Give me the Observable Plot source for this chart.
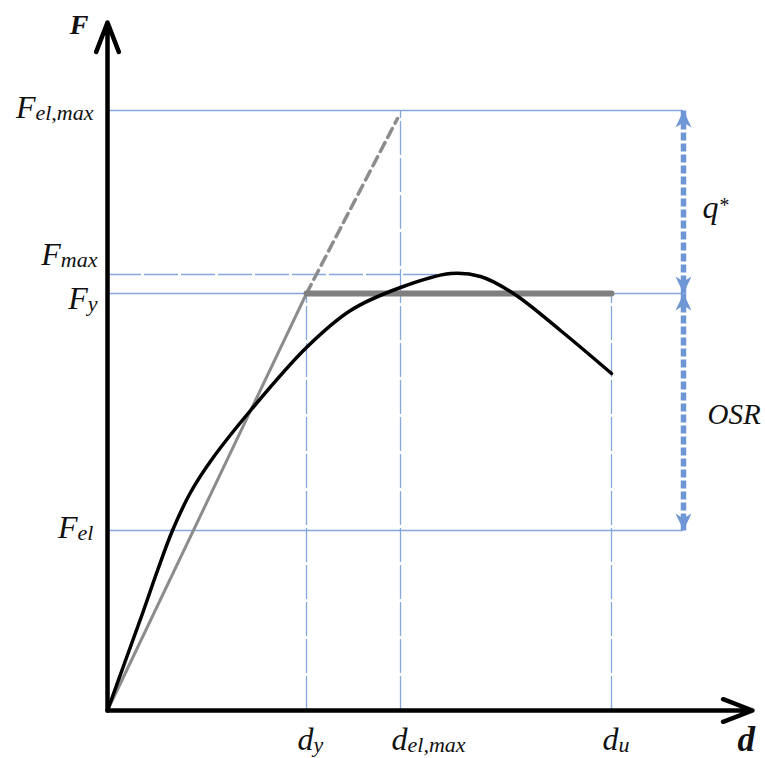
<!DOCTYPE html>
<html>
<head>
<meta charset="utf-8">
<script src="https://cdn.jsdelivr.net/npm/d3@7"></script>
<script src="https://cdn.jsdelivr.net/npm/@observablehq/plot@0.6"></script>
<style>
  html, body { margin: 0; padding: 0; background: white; }
</style>
</head>
<body>
<div id="chart"></div>
<script>
// ---- data (abstract units) ----
const dNames  = ["d_y", "d_el,max", "d_u"];
const dValues = [1.99, 2.93, 5.04];
const fNames  = ["F_el,max", "F_max", "F_y", "F_el"];
const fValues = [6.00, 4.36, 4.17, 1.80];

// capacity (pushover) curve
const curveD = [0, 0.18, 0.35, 0.50, 0.65, 0.83, 1.05, 1.43, 1.99, 2.43, 2.93, 3.43, 3.73, 4.06, 4.53, 5.04];
const curveF = [0, 0.50, 0.97, 1.40, 1.80, 2.18, 2.52, 3.00, 3.63, 4.00, 4.23, 4.37, 4.34, 4.17, 3.80, 3.37];

// bilinear idealisation
const elasticD = [0, 1.99, 2.90];
const elasticF = [0, 4.17, 5.92];
const plateauD = [1.99, 5.04];

// axis extents and annotation column
const axisEnd = [6.45, 6.88];
const arrowD = 5.76;
const peakD = 3.43;
const ratioNames = ["q^*", "OSR"];

const [Felmax, Fmax, Fy, Fel] = fValues;
const [dy, delmax, du] = dValues;

const blue = "#84a7dd";
const arrowBlue = "#6f97d6";
const serif = "Liberation Serif, Times New Roman, serif";

const headUp = {draw(ctx) { ctx.moveTo(0, 0); ctx.lineTo(-8, 17); ctx.lineTo(0, 12); ctx.lineTo(8, 17); ctx.closePath(); }};
const headDown = {draw(ctx) { ctx.moveTo(0, 0); ctx.lineTo(-8, -17); ctx.lineTo(0, -12); ctx.lineTo(8, -17); ctx.closePath(); }};

const curve = curveD.map((d, i) => ({d, F: curveF[i]}));
const elastic = elasticD.map((d, i) => ({d, F: elasticF[i]}));

const hLines = [
  {F: Felmax, x2: arrowD, dash: false},
  {F: Fy, x2: arrowD, dash: false},
  {F: Fel, x2: arrowD, dash: false},
  {F: Fmax, x2: peakD, dash: true}
];
const vLines = [
  {d: dy, y2: Fy},
  {d: delmax, y2: Felmax},
  {d: du, y2: Fy}
];

const plot = Plot.plot({
  width: 765,
  height: 758,
  marginLeft: 107,
  marginRight: 0,
  marginTop: 0,
  marginBottom: 48,
  x: {domain: [0, 6.58], axis: null},
  y: {domain: [0, 7.10], axis: null},
  style: {background: "white", overflow: "visible"},
  marks: [
    // thin blue reference lines
    Plot.ruleY(hLines.filter(l => !l.dash), {y: "F", x1: 0, x2: "x2", stroke: blue, strokeWidth: 1.3}),
    Plot.ruleY(hLines.filter(l => l.dash), {y: "F", x1: 0, x2: "x2", stroke: blue, strokeWidth: 1.3, strokeDasharray: "34,3"}),
    Plot.ruleX(vLines, {x: "d", y1: 0, y2: "y2", stroke: blue, strokeWidth: 1.3, strokeDasharray: "34,3"}),
    // bilinear idealisation
    Plot.line(elastic.slice(0, 2), {x: "d", y: "F", stroke: "#8c8c8c", strokeWidth: 3}),
    Plot.line(elastic.slice(1), {x: "d", y: "F", stroke: "#8c8c8c", strokeWidth: 3.5, strokeDasharray: "10,6"}),
    Plot.line(plateauD.map(d => ({d, F: Fy})), {x: "d", y: "F", stroke: "#7f7f7f", strokeWidth: 6}),
    // capacity curve
    Plot.line(curve, {x: "d", y: "F", stroke: "black", strokeWidth: 3.5, curve: "catmull-rom"}),
    // axes with arrows
    Plot.arrow([{x1: 0, y1: 0, x2: axisEnd[0], y2: 0}, {x1: 0, y1: 0, x2: 0, y2: axisEnd[1]}],
      {x1: "x1", y1: "y1", x2: "x2", y2: "y2", stroke: "black", strokeWidth: 4.5, headAngle: 42, headLength: 10.5}),
    // dimension arrows q* and OSR
    Plot.link([{y1: Felmax, y2: Fy}, {y1: Fy, y2: Fel}],
      {x1: arrowD, x2: arrowD, y1: "y1", y2: "y2", stroke: arrowBlue, strokeWidth: 5.5, strokeDasharray: "8,3"}),
    Plot.dot([Felmax, Fy], {x: arrowD, y: d => d, symbol: headUp, fill: arrowBlue, stroke: "none"}),
    Plot.dot([Fy, Fel], {x: arrowD, y: d => d, symbol: headDown, fill: arrowBlue, stroke: "none"}),
    // y labels
    Plot.text(fNames, {filter: (d, i) => i === 0 || i === 3, x: 0, y: (d, i) => fValues[i], text: d => d,
      textAnchor: "end", lineAnchor: "bottom", dx: -14, dy: 7, fontFamily: serif, fontStyle: "italic", fontSize: 32, fill: "#111"}),
    Plot.text(fNames, {filter: (d, i) => i === 1, x: 0, y: (d, i) => fValues[i], text: d => d,
      textAnchor: "end", lineAnchor: "bottom", dx: -10, dy: -10, fontFamily: serif, fontStyle: "italic", fontSize: 32, fill: "#111"}),
    Plot.text(fNames, {filter: (d, i) => i === 2, x: 0, y: (d, i) => fValues[i], text: d => d,
      textAnchor: "end", lineAnchor: "bottom", dx: -10, dy: 15, fontFamily: serif, fontStyle: "italic", fontSize: 32, fill: "#111"}),
    // x labels
    Plot.text(dNames, {x: (d, i) => dValues[i], y: 0, text: d => d, textAnchor: "start", lineAnchor: "bottom",
      dx: -9, dy: 39, fontFamily: serif, fontStyle: "italic", fontSize: 32, fill: "#111"}),
    // axis names
    Plot.text(["F"], {x: 0, y: axisEnd[1], text: d => d, textAnchor: "end", lineAnchor: "bottom", dx: -19, dy: 11,
      fontFamily: serif, fontStyle: "italic", fontWeight: "bold", fontSize: 28, fill: "#111"}),
    Plot.text(["d"], {x: axisEnd[0], y: 0, text: d => d, textAnchor: "start", lineAnchor: "bottom", dx: -15, dy: 40,
      fontFamily: serif, fontStyle: "italic", fontWeight: "bold", fontSize: 35, fill: "#111"}),
    // ratio labels
    Plot.text([ratioNames[0]], {x: arrowD, y: (Felmax + Fy) / 2, text: d => d, textAnchor: "start", lineAnchor: "bottom",
      dx: 19, dy: 16, fontFamily: serif, fontStyle: "italic", fontSize: 32, fill: "#111"}),
    Plot.text([ratioNames[1]], {x: arrowD, y: (Fy + Fel) / 2, text: d => d, textAnchor: "start", lineAnchor: "bottom",
      dx: 24, dy: 12, fontFamily: serif, fontStyle: "italic", fontSize: 29, fill: "#111"})
  ]
});

// turn "X_sub" / "X^sup" into real tspans
const ns = "http://www.w3.org/2000/svg";
plot.querySelectorAll("text").forEach(t => {
  const s = t.textContent;
  const m = s.match(/^([^_^]+)([_^])(.+)$/);
  if (!m) return;
  while (t.firstChild) t.removeChild(t.firstChild);
  const a = document.createElementNS(ns, "tspan");
  a.textContent = m[1];
  t.appendChild(a);
  const b = document.createElementNS(ns, "tspan");
  b.textContent = m[3];
  b.setAttribute("font-size", m[2] === "_" ? 22 : 20);
  b.setAttribute("dy", m[2] === "_" ? "0.1em" : "-0.3em");
  t.appendChild(b);
});

document.getElementById("chart").appendChild(plot);
</script>
</body>
</html>
